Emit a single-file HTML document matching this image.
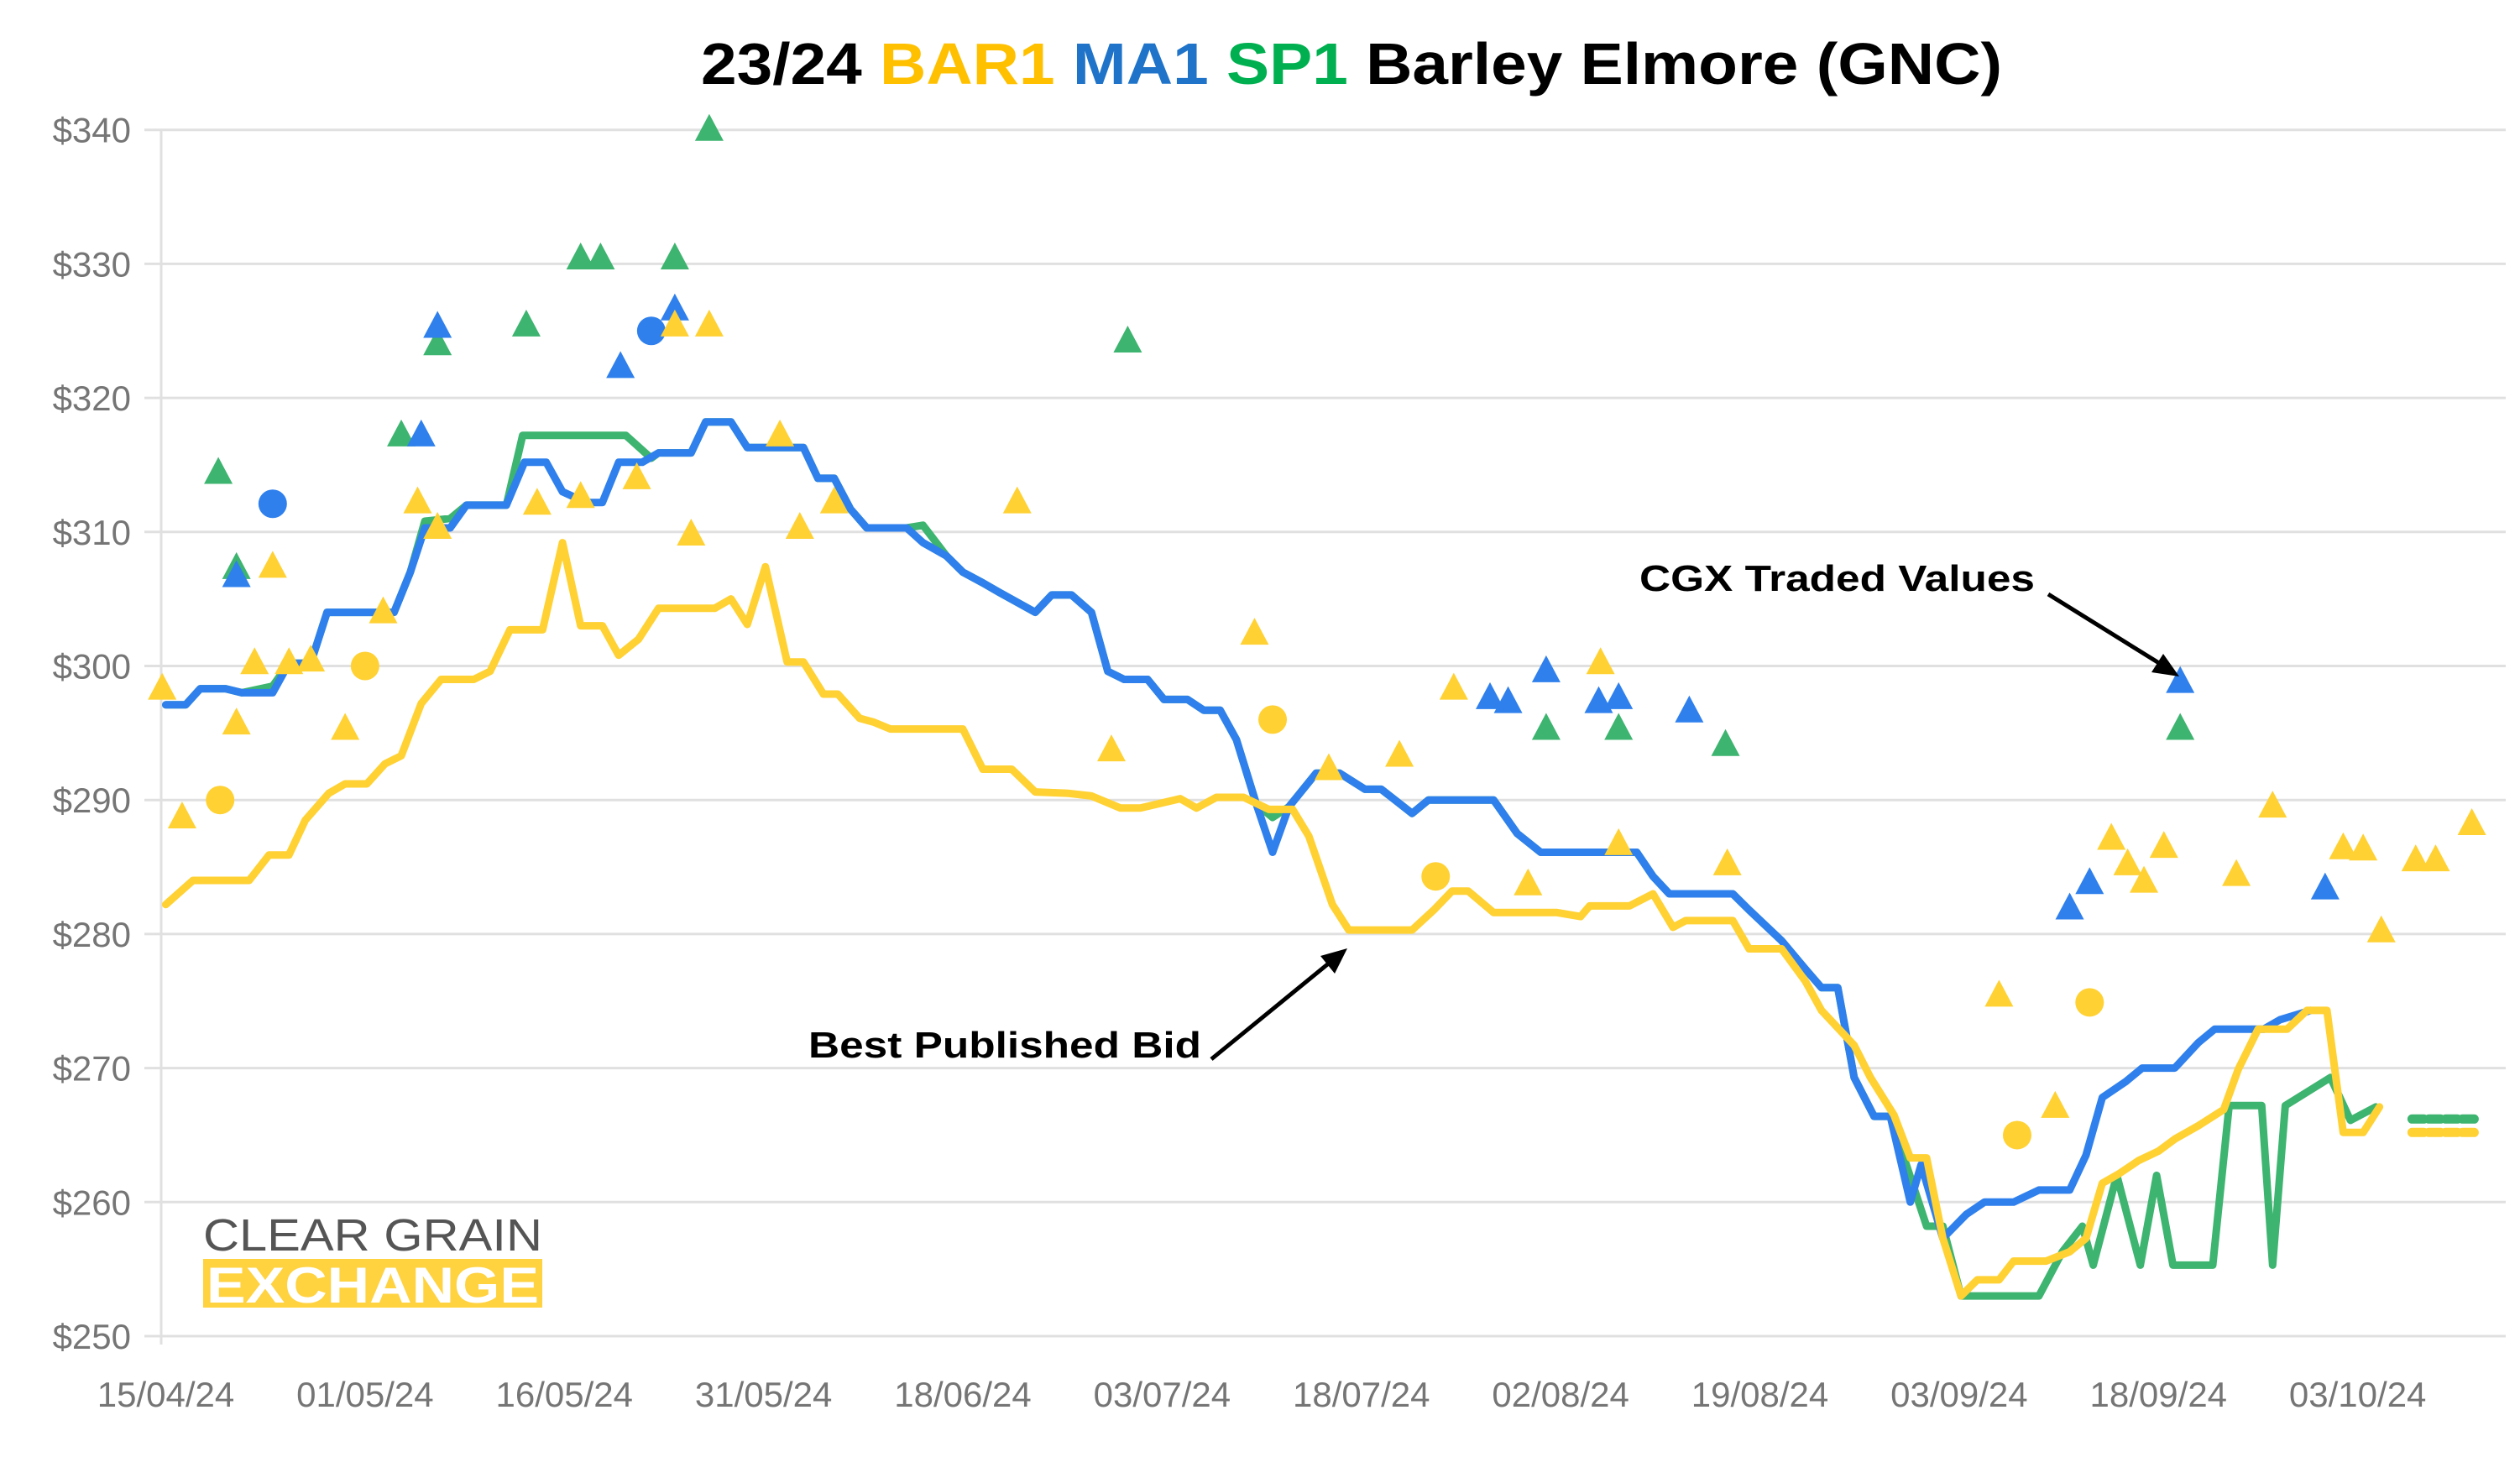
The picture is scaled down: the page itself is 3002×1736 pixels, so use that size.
<!DOCTYPE html>
<html><head><meta charset="utf-8">
<style>
html,body{margin:0;padding:0;background:#fff;}
svg{display:block;}
</style></head>
<body>
<svg id="chart" xmlns="http://www.w3.org/2000/svg" width="3002" height="1736" viewBox="0 0 3002 1736">
<rect width="3002" height="1736" fill="#fff"/>
<text x="1610" y="100" text-anchor="middle" font-family="Liberation Sans, sans-serif" font-weight="bold" font-size="70" fill="#000" textLength="1550" lengthAdjust="spacingAndGlyphs">23/24 <tspan fill="#FFC000">BAR1</tspan> <tspan fill="#1F73C8">MA1</tspan> <tspan fill="#00B050">SP1</tspan> Barley Elmore (GNC)</text>
<g id="grid"></g>
<g id="yaxis"></g>
<g id="xaxis"></g>
<g id="lines"></g>
<g id="marks"></g>
<g>
<text x="242" y="1490" font-family="Liberation Sans, sans-serif" font-size="54" fill="#555" textLength="404" lengthAdjust="spacingAndGlyphs">CLEAR GRAIN</text>
<rect x="242" y="1500" width="404" height="58" fill="#FFD23F"/>
<text x="246" y="1552" font-family="Liberation Sans, sans-serif" font-weight="bold" font-size="60" fill="#fff" textLength="396" lengthAdjust="spacingAndGlyphs">EXCHANGE</text>
</g>
<g>
<text x="1953" y="704" font-family="Liberation Sans, sans-serif" font-weight="bold" font-size="44" fill="#000" textLength="471" lengthAdjust="spacingAndGlyphs">CGX Traded Values</text>
<line x1="2440" y1="708" x2="2580" y2="795" stroke="#000" stroke-width="5"/>
<polygon points="2596,806 2563,801 2577,779" fill="#000"/>
</g>
<g>
<text x="963" y="1260" font-family="Liberation Sans, sans-serif" font-weight="bold" font-size="44" fill="#000" textLength="468" lengthAdjust="spacingAndGlyphs">Best Published Bid</text>
<line x1="1443" y1="1262" x2="1590" y2="1142" stroke="#000" stroke-width="5"/>
<polygon points="1605,1130 1590,1160 1573,1139" fill="#000"/>
</g>
</svg>
<script>
const yTicks=[250,260,270,280,290,300,310,320,330,340];
const xLabels=["15/04/24","01/05/24","16/05/24","31/05/24","18/06/24","03/07/24","18/07/24","02/08/24","19/08/24","03/09/24","18/09/24","03/10/24"];
const labelStep=11;

const ma1Idx=[0,1.1,1.9,3.3,4.2,5.9,6.8,8.0,8.9,12.6,13.5,14.3,15.7,16.6,18.8,19.8,21.0,21.9,23.2,24.1,25.0,26.3,27.2,29.0,29.8,31.2,32.1,35.2,36.0,36.9,37.8,38.7,40.9,41.8,43.1,44.0,45.1,46.0,48.0,48.9,50.0,51.1,52.0,52.9,54.2,55.1,56.4,57.3,58.2,59.1,60.2,61.1,62.0,63.5,64.8,66.2,67.1,68.8,69.7,73.3,74.6,75.9,81.2,82.1,83.0,86.5,87.4,89.2,90.5,91.4,92.3,93.2,94.3,95.2,96.3,96.9,98.1,99.4,100.4,102.0,103.4,105.1,106.0,106.9,108.2,109.1,110.9,112.2,113.1,115.8,116.7,118.4];
const ma1Val=[297.1,297.1,298.3,298.3,298,298,300.2,300.2,304,304,307,310.3,310.3,312,312,315.2,315.2,313,312.2,312.2,315.2,315.2,315.9,315.9,318.2,318.2,316.3,316.3,314,314,311.7,310.3,310.3,309.2,308.2,307,306.2,305.5,304,305.3,305.3,304,299.6,299,299,297.5,297.5,296.7,296.7,294.5,289.7,286.1,289.5,292,292,290.8,290.8,289,290,290,287.5,286.1,286.1,284.3,283,283,281.8,279.5,277.4,276,276,269.3,266.4,266.4,260,262.8,257.3,259.1,260,260,260.9,260.9,263.5,267.8,269,270,270,271.9,272.9,272.9,273.6,274.3];

const sp1Idx=[0,1.1,1.9,3.3,4.2,5.9,6.8,8.0,8.9,12.6,13.5,14.3,15.7,16.6,18.8,19.7,25.4,26.8,27.2,29.0,29.8,31.2,32.1,35.2,36.0,36.9,37.8,38.7,40.9,41.8,43.1,44.0,45.1,46.0,48.0,48.9,50.0,51.1,52.0,52.9,54.2,55.1,56.4,57.3,58.2,59.1,60.2,61.1,62.0,63.5,64.8,66.2,67.1,68.8,69.7,73.3,74.6,75.9,81.2,82.1,83.0,86.5,87.4,89.2,90.5,91.4,92.3,93.2,94.3,95.2,97.2,98.1,99.1,103.4,104.7,105.8,106.4,107.7,109.0,109.9,110.8,113.0,113.9,115.7,116.3,117.0,119.5,120.6,122.0];
const sp1Val=[297.1,297.1,298.3,298.3,298,298.5,300.2,300.2,304,304,307,310.8,311,312,312,317.2,317.2,315.5,315.9,315.9,318.2,318.2,316.3,316.3,314,314,311.7,310.3,310.3,310.5,308.2,307,306.2,305.5,304,305.3,305.3,304,299.6,299,299,297.5,297.5,296.7,296.7,294.5,289.7,288.7,289.5,292,292,290.8,290.8,289,290,290,287.5,286.1,286.1,284.3,283,283,281.8,279.5,277.4,276,276,269.3,266.4,266.4,258.2,258.2,253,253,256.3,258.2,255.3,262,255.3,262,255.3,255.3,267.2,267.2,255.3,267.2,269.3,266.1,267.1];

const bar1Idx=[0,1.5,4.6,5.7,6.8,7.7,9.0,9.9,11.1,12.1,13.0,14.1,15.2,17.0,17.9,19.0,20.8,21.9,22.9,24.1,25.0,26.1,27.2,30.3,31.2,32.1,33.1,34.3,35.2,36.3,37.1,38.3,39.1,40.0,44.0,45.1,46.7,48.0,49.8,51.1,52.7,53.8,56.0,56.9,58.0,59.5,60.9,62.2,63.1,64.4,65.3,68.8,70.0,71.0,71.9,73.3,76.8,78.1,78.6,80.8,82.1,83.2,83.9,86.5,87.4,89.2,90.5,91.4,93.2,94.1,95.4,96.3,97.2,98.1,99.1,100.0,101.2,102.0,103.8,105.1,106.0,106.9,107.8,108.9,110.0,110.9,112.2,113.6,114.4,115.5,117.1,118.2,119.3,120.2,121.3,122.2];
const bar1Val=[282.2,284,284,285.9,285.9,288.5,290.5,291.2,291.2,292.7,293.3,297.2,299,299,299.6,302.7,302.7,309.2,303,303,300.8,302,304.3,304.3,305,303.1,307.4,300.3,300.3,297.9,297.9,296.1,295.8,295.3,295.3,292.3,292.3,290.6,290.5,290.3,289.4,289.4,290.1,289.4,290.2,290.2,289.3,289.3,287.3,282.2,280.3,280.3,281.8,283.2,283.2,281.6,281.6,281.3,282.1,282.1,283,280.5,281,281,278.9,278.9,276.5,274.3,271.7,269.3,266.5,263.3,263.3,257.3,253,254.2,254.2,255.6,255.6,256.3,257.3,261.4,262.1,263.1,263.8,264.7,265.7,266.9,269.9,272.9,272.9,274.3,274.3,265.2,265.2,267.1];

const projIdx=[124.0,127.7];
const sp1Proj=[266.2,266.2];
const bar1Proj=[265.2,265.2];

const bar1TriIdx=[-0.2,0.9,3.9,4.9,5.9,6.8,8.0,9.9,12.0,13.9,15.0,20.5,22.9,26.0,28.1,29.0,30.0,33.9,35.0,36.9,47.0,52.2,60.1,64.2,68.1,71.1,75.2,79.2,80.2,86.2,101.2,104.3,107.4,108.3,109.2,110.3,114.3,116.3,120.2,121.3,122.3,124.2,125.3,127.3];
const bar1TriVal=[298.3,288.7,295.7,300.2,307.4,300.2,300.4,295.3,304,312.2,310.3,312.1,312.6,314,325.4,309.8,325.4,317.2,310.3,312.2,312.2,293.7,302.4,292.3,293.3,298.3,283.7,300.2,286.7,285.2,275.4,267.1,287.1,285.2,283.9,286.5,284.4,289.5,286.4,286.3,280.2,285.5,285.5,288.2];
const bar1CirIdx=[3.0,11.0,61.1,70.1,102.2,106.2];
const bar1CirVal=[290,300,296,284.3,265,274.9];
const ma1TriIdx=[3.9,14.1,15.0,25.1,28.1,73.1,74.1,76.2,79.1,80.2,84.1,105.1,106.2,111.2,119.2];
const ma1TriVal=[306.7,317.2,325.3,322.3,326.6,297.6,297.3,299.6,297.3,297.6,296.6,281.9,283.8,298.8,283.4];
const ma1CirIdx=[5.9,26.8];
const ma1CirVal=[312.1,325];
const sp1TriIdx=[2.9,3.9,13.0,15.0,19.9,22.9,24.0,28.1,30.0,53.1,76.2,80.2,86.1,111.2];
const sp1TriVal=[314.4,307.3,317.2,324,325.4,330.4,330.4,330.4,340,324.2,295.3,295.3,294.1,295.3];

const NS='http://www.w3.org/2000/svg';
const X0=197.5, DX=21.58, Y250=1592, PX10=159.7;
function xs(i){return X0+DX*i;}
function ys(v){return Y250-(v-250)*PX10/10;}
function mk(tag,attrs,parent){const e=document.createElementNS(NS,tag);for(const k in attrs)e.setAttribute(k,attrs[k]);parent.appendChild(e);return e;}
const C={bar1:'#FFD133',ma1:'#2F80ED',sp1:'#3DB46F'};

const grid=document.getElementById('grid');
const yax=document.getElementById('yaxis');
yTicks.forEach(t=>{
  const l=mk('line',{x1:172,x2:2985,y1:ys(t),y2:ys(t),stroke:'#E0E0E0','stroke-width':3},grid);
  
  
  const tx=mk('text',{x:156,y:ys(t)+15,'text-anchor':'end','font-family':'Liberation Sans, sans-serif','font-size':42,fill:'#757575'},yax);
  tx.textContent='$'+t;
  
  
});
const va=mk('line',{x1:192,x2:192,y1:ys(340),y2:ys(250)+10,stroke:'#E0E0E0','stroke-width':3},grid);



const xax=document.getElementById('xaxis');
xLabels.forEach((lb,k)=>{
  const tx=mk('text',{x:xs(k*labelStep),y:1676,'text-anchor':'middle','font-family':'Liberation Sans, sans-serif','font-size':42,fill:'#757575'},xax);
  tx.textContent=lb;
  
  
});

const lines=document.getElementById('lines');
function path(idx,val,color,name,dash){
  const d=idx.map((i,k)=>(k?'L':'M')+xs(i).toFixed(1)+' '+ys(val[k]).toFixed(1)).join(' ');
  const p=mk('path',{d:d,fill:'none',stroke:color,'stroke-width':dash?11:9,'stroke-linejoin':'round','stroke-linecap':'round'},lines);
  if(dash)p.setAttribute('stroke-dasharray','14 6');
  
  
}
path(sp1Idx,sp1Val,C.sp1,'sp1-line');
path(ma1Idx,ma1Val,C.ma1,'ma1-line');
path(bar1Idx,bar1Val,C.bar1,'bar1-best-bid-line');
path(projIdx,sp1Proj,C.sp1,'sp1-projection',true);
path(projIdx,bar1Proj,C.bar1,'bar1-projection',true);

const marks=document.getElementById('marks');
function tris(idx,val,color,name){
  idx.forEach((i,k)=>{
    const x=xs(i),y=ys(val[k]);
    const p=mk('polygon',{points:`${x},${y-19} ${x-17},${y+13} ${x+17},${y+13}`,fill:color},marks);
    
    
  });
}
function cirs(idx,val,color,name){
  idx.forEach((i,k)=>{
    const c=mk('circle',{cx:xs(i),cy:ys(val[k]),r:17,fill:color},marks);
    
    
  });
}
tris(sp1TriIdx,sp1TriVal,C.sp1,'sp1-trade-marker');
tris(ma1TriIdx,ma1TriVal,C.ma1,'ma1-trade-marker');
cirs(ma1CirIdx,ma1CirVal,C.ma1,'ma1-circle-marker');
tris(bar1TriIdx,bar1TriVal,C.bar1,'bar1-trade-marker');
cirs(bar1CirIdx,bar1CirVal,C.bar1,'bar1-circle-marker');
</script>
</body></html>
